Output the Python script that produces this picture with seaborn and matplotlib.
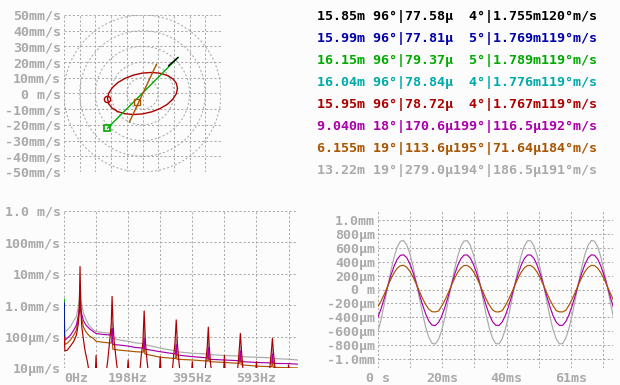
import matplotlib
matplotlib.use("Agg")
import matplotlib.pyplot as plt
from matplotlib.patches import Circle
from matplotlib.ticker import NullLocator
import seaborn as sns

# EGA-like scope palette
black, blue, green, cyan = '#000000', '#0000aa', '#00aa00', '#00aaaa'
red, magenta, brown, gray = '#aa0000', '#aa00aa', '#aa5500', '#aaaaaa'
bg = '#fcfcfc'

################################################
#   readout table (top right)                  #
################################################
row_colors = [black, blue, green, cyan, red, magenta, brown, gray]
vel_amp = ['15.85m', '15.99m', '16.15m', '16.04m', '15.95m', '9.040m', '6.155m', '13.22m']
vel_deg = [96, 96, 96, 96, 96, 18, 19, 19]
disp_amp = ['77.58µ', '77.81µ', '79.37µ', '78.84µ', '78.72µ', '170.6µ', '113.6µ', '279.0µ']
disp_deg = [4, 5, 5, 4, 4, 199, 195, 194]
harm_amp = ['1.755m', '1.769m', '1.789m', '1.776m', '1.767m', '116.5µ', '71.64µ', '186.5µ']
harm_deg = [120, 119, 119, 119, 119, 192, 184, 191]

################################################
#   orbit plot (top left), mm/s                #
################################################
ring_radii = [10, 20, 30, 40, 50]
orbit_ticks = [50, 40, 30, 20, 10, 0, -10, -20, -30, -40, -50]
orbit_labels = ['50mm/s', '40mm/s', '30mm/s', '20mm/s', '10mm/s', '0 m/s',
                '-10mm/s', '-20mm/s', '-30mm/s', '-40mm/s', '-50mm/s']
red_orbit_x = [22.3, 21.5, 19.3, 15.8, 11.2, 5.8, 0.0, -5.8, -11.2, -15.8, -19.3, -21.5, -22.3,
               -21.5, -19.3, -15.8, -11.2, -5.8, 0.0, 5.8, 11.2, 15.8, 19.3, 21.5, 22.3]
red_orbit_y = [3.3, 6.6, 9.4, 11.5, 12.9, 13.4, 13.0, 11.7, 9.6, 6.9, 3.6, 0.2, -3.3,
               -6.6, -9.4, -11.5, -12.9, -13.4, -13.0, -11.7, -9.6, -6.9, -3.6, -0.2, 3.3]
green_orbit_x = [-22.4, 22.8]
green_orbit_y = [-22.2, 23.1]
black_orbit_x = [16.5, 22.6]
black_orbit_y = [17.6, 22.9]
brown_orbit_x = [-8.4, 9.0]
brown_orbit_y = [-18.3, 18.8]
red_start = [-22.4, -3.7]
green_start = [-22.4, -22.2]
brown_start = [-3.3, -5.2]

################################################
#   spectrum (bottom left), m/s                #
################################################
spec_grid = [0, 98.8, 197.7, 296.5, 395.3, 494.2, 593, 691.8]
spec_xlabels = ['0Hz', '', '198Hz', '', '395Hz', '', '593Hz', '']
spec_yticks = [1e-5, 1e-4, 1e-3, 1e-2, 1e-1, 1]
spec_ylabels = ['10µm/s', '100µm/s', '1.0mm/s', '10mm/s', '100mm/s', '1.0 m/s']

floor_f = [0, 3, 10, 20, 30, 38, 44, 47, 49.4, 52, 55, 60, 68, 78, 90, 98.8, 120, 146, 148.2,
           150.5, 170, 197.6, 220, 245, 247, 249, 296.5, 343.5, 345.8, 348, 395.3, 442.5,
           444.6, 447, 494.2, 541, 543.4, 546, 593, 640, 642.2, 644.5, 691.8, 721]
gray_spec = [7.1e-4, 1.45e-4, 1.6e-4, 2.1e-4, 3.2e-4, 4.3e-4, 8.9e-4, 1.6e-3, 5.6e-3, 1.4e-3,
             1.0e-3, 5.6e-4, 3.5e-4, 2.2e-4, 1.66e-4, 1.45e-4, 1.35e-4, 1.26e-4, 2.8e-4,
             8.9e-5, 7.8e-5, 7.1e-5, 6.3e-5, 6.0e-5, 2.0e-4, 5.6e-5, 4.3e-5, 3.5e-5, 8.9e-5,
             3.3e-5, 2.95e-5, 2.8e-5, 7.1e-5, 2.7e-5, 2.5e-5, 2.4e-5, 5.0e-5, 2.3e-5, 2.2e-5,
             2.1e-5, 4.0e-5, 2.0e-5, 1.9e-5, 1.8e-5]
magenta_spec = [2.5e-4, 7.8e-5, 8.9e-5, 1.12e-4, 1.6e-4, 2.3e-4, 4.5e-4, 7.1e-4, 1.0e-3, 7.1e-4,
                5.0e-4, 3.2e-4, 2.3e-4, 1.8e-4, 1.45e-4, 1.26e-4, 1.17e-4, 1.12e-4, 1.8e-4,
                5.6e-5, 5.4e-5, 5.0e-5, 4.5e-5, 4.3e-5, 8.9e-5, 4.0e-5, 3.3e-5, 2.8e-5, 5.6e-5,
                2.6e-5, 2.3e-5, 2.1e-5, 4.5e-5, 1.9e-5, 1.8e-5, 1.7e-5, 3.5e-5, 1.6e-5, 1.5e-5,
                1.45e-5, 2.8e-5, 1.4e-5, 1.38e-5, 1.32e-5]
brown_spec = [3.4e-4, 5.6e-5, 6.2e-5, 7.9e-5, 1.12e-4, 1.6e-4, 3.5e-4, 7.9e-4, 2.5e-3, 7.9e-4,
              3.5e-4, 2.0e-4, 1.4e-4, 1.05e-4, 8.9e-5, 7.1e-5, 6.6e-5, 6.2e-5, 1.12e-4,
              4.0e-5, 3.7e-5, 3.5e-5, 3.3e-5, 3.2e-5, 6.3e-5, 2.8e-5, 2.2e-5, 2.0e-5, 3.5e-5,
              1.9e-5, 1.8e-5, 1.66e-5, 2.8e-5, 1.6e-5, 1.5e-5, 1.4e-5, 2.5e-5, 1.26e-5, 1.15e-5,
              1.1e-5, 2.0e-5, 1.05e-5, 1.02e-5, 1.0e-5]

red_f = [0, 3, 10, 20, 30, 38, 44, 47, 49.4, 52, 55, 60, 65, 72, 80,
         96, 98.8, 101.5,
         128, 135, 141, 145.5, 148.2, 151, 155, 162, 168,
         194, 197.6, 201,
         232, 238, 243, 247, 251, 256, 262,
         293, 296.5, 300,
         332, 338, 342, 345.8, 349.5, 355, 360,
         392, 395.3, 398.5,
         433, 438, 441.5, 444.6, 447.5, 452, 458,
         491, 494.2, 497.5,
         533, 537, 540.5, 543.4, 546.5, 551, 556,
         590, 593, 596,
         632, 636, 639.5, 642.2, 645, 650, 655,
         688.5, 691.8, 695, 721]
red_spec = [1.0e-4, 3.5e-5, 3.7e-5, 5.0e-5, 7.1e-5, 1.1e-4, 2.5e-4, 6.3e-4, 1.7e-2, 6.3e-4,
            2.0e-4, 7.9e-5, 3.5e-5, 1.6e-5, 5e-6,
            5e-6, 2.5e-5, 5e-6,
            5e-6, 1.8e-5, 7.9e-5, 2.5e-4, 1.9e-3, 2.5e-4, 6.3e-5, 1.4e-5, 5e-6,
            5e-6, 1.8e-5, 5e-6,
            5e-6, 2.5e-5, 6.3e-5, 6.6e-4, 6.3e-5, 1.6e-5, 5e-6,
            5e-6, 2.3e-5, 5e-6,
            5e-6, 2.5e-5, 6.3e-5, 3.4e-4, 5.6e-5, 1.26e-5, 5e-6,
            5e-6, 1.6e-5, 5e-6,
            5e-6, 2.0e-5, 5.0e-5, 2.0e-4, 5.0e-5, 1.26e-5, 5e-6,
            5e-6, 2.5e-5, 5e-6,
            5e-6, 1.6e-5, 4.5e-5, 1.26e-4, 4.0e-5, 1.0e-5, 5e-6,
            5e-6, 1.6e-5, 5e-6,
            5e-6, 1.6e-5, 4.0e-5, 8.9e-5, 3.5e-5, 1.0e-5, 5e-6,
            5e-6, 1.26e-5, 5e-6, 5e-6]
dc_f = [0.6, 0.6]
green_dc = [1.0e-4, 1.6e-3]
blue_dc = [1.0e-4, 1.2e-3]

################################################
#   waveform (bottom right), µm vs ms          #
################################################
wave_grid = [0, 10.1, 20.2, 30.3, 40.4, 50.5, 60.6, 70.7]
wave_xlabels = ['0 s', '', '20ms', '', '40ms', '', '61ms', '']
wave_yticks = [1000, 800, 600, 400, 200, 0, -200, -400, -600, -800, -1000]
wave_ylabels = ['1.0mm', '800µm', '600µm', '400µm', '200µm', '0 m',
                '-200µm', '-400µm', '-600µm', '-800µm', '-1.0mm']
t_ms = list(range(75))
gray_wave = [-605, -424, -204, 31, 259, 458, 608, 693, 706, 645, 517, 333, 112, -123, -349,
             -546, -693, -776, -784, -719, -588, -403, -181, 55, 281, 475, 619, 698, 703, 635,
             500, 312, 90, -146, -371, -564, -705, -780, -782, -709, -572, -382, -158, 78, 302,
             493, 630, 702, 700, 625, 484, 291, 66, -170, -392, -581, -715, -783, -778, -699,
             -555, -361, -135, 101, 323, 509, 640, 705, 696, 613, 466, 269, 43, -193, -414]
magenta_wave = [-396, -272, -122, 39, 195, 331, 433, 491, 500, 459, 371, 245, 94, -67, -222,
                -356, -457, -513, -519, -474, -385, -258, -107, 55, 209, 343, 441, 495, 498, 452,
                360, 231, 79, -83, -236, -368, -465, -516, -517, -468, -374, -244, -91, 71, 224,
                354, 448, 497, 496, 445, 348, 216, 63, -99, -251, -380, -472, -518, -515, -461,
                -363, -229, -75, 87, 238, 365, 455, 499, 493, 437, 336, 202, 47, -114, -266]
brown_wave = [-246, -164, -65, 42, 146, 236, 304, 342, 348, 321, 262, 179, 79, -27, -130,
              -219, -286, -320, -322, -310, -238, -154, -54, 53, 155, 244, 309, 344, 347, 316,
              255, 170, 69, -38, -140, -227, -295, -322, -322, -305, -231, -145, -43, 63, 165,
              251, 314, 346, 345, 311, 247, 160, 58, -49, -150, -235, -305, -322, -322, -300,
              -224, -135, -33, 74, 175, 259, 318, 348, 343, 306, 240, 150, 47, -59, -160]

################################################
#   figure                                     #
################################################
sns.set_style("white")
plt.rcParams['font.family'] = ['DejaVu Sans Mono', 'DejaVu Sans']
plt.rcParams['font.weight'] = 'bold'
plt.rcParams['font.size'] = 9.6

W, H = 620, 385
fig = plt.figure(figsize=(W / 100, H / 100), dpi=100, facecolor=bg)


def px_axes(left, top, right, bottom):
    return fig.add_axes([left / W, 1 - bottom / H, (right - left) / W, (bottom - top) / H])


grid_kw = dict(color=gray, linestyle=(0, (2, 2)), linewidth=0.75)
line_kw = dict(estimator=None, sort=False, legend=False)
LW = 0.85


def style(ax):
    ax.set_facecolor(bg)
    for s in ax.spines.values():
        s.set_visible(False)
    ax.grid(True, **grid_kw)
    ax.set_axisbelow(True)
    ax.tick_params(length=0, labelcolor=gray, labelsize=9.6, pad=2)


# orbit
ax1 = px_axes(64, 15, 221, 172)
style(ax1)
for r in ring_radii:
    ax1.add_patch(Circle((0, 0), r, fill=False, **grid_kw))
sns.lineplot(x=red_orbit_x, y=red_orbit_y, color=red, lw=1.0, ax=ax1, **line_kw)
sns.lineplot(x=green_orbit_x, y=green_orbit_y, color=green, lw=1.0, ax=ax1, **line_kw)
sns.lineplot(x=black_orbit_x, y=black_orbit_y, color=black, lw=1.0, ax=ax1, **line_kw)
sns.lineplot(x=brown_orbit_x, y=brown_orbit_y, color=brown, lw=1.0, ax=ax1, **line_kw)
ax1.plot(*red_start, marker='o', ms=4.5, mfc='none', mec=red, mew=1)
ax1.plot(*green_start, marker='s', ms=4.5, mfc='none', mec=green, mew=1.2)
ax1.plot(*brown_start, marker='s', ms=4.5, mfc='none', mec=brown, mew=1)
ax1.set_xlim(-50, 50)
ax1.set_ylim(-50, 50)
ax1.set_xticks(orbit_ticks)
ax1.set_xticklabels([])
ax1.set_yticks(orbit_ticks)
ax1.set_yticklabels(orbit_labels)

# table
for i, c in enumerate(row_colors):
    row = f"{vel_amp[i]} {vel_deg[i]:>2}°|{disp_amp[i]}{disp_deg[i]:>3}°|{harm_amp[i]}{harm_deg[i]:>3}°m/s"
    fig.text(317 / W, 1 - (20 + 22 * i) / H, row, color=c, ha='left', va='baseline',
             fontsize=9.6, fontweight='bold')

# spectrum
ax2 = px_axes(64, 211, 298, 368)
style(ax2)
ax2.set_yscale('log')
sns.lineplot(x=floor_f, y=gray_spec, color=gray, lw=LW, ax=ax2, **line_kw)
sns.lineplot(x=floor_f, y=brown_spec, color=brown, lw=LW, ax=ax2, **line_kw)
sns.lineplot(x=floor_f, y=magenta_spec, color=magenta, lw=LW, ax=ax2, **line_kw)
sns.lineplot(x=dc_f, y=green_dc, color=green, lw=1.2, ax=ax2, **line_kw)
sns.lineplot(x=dc_f, y=blue_dc, color=blue, lw=1.2, ax=ax2, **line_kw)
sns.lineplot(x=red_f, y=red_spec, color=red, lw=LW, ax=ax2, **line_kw)
ax2.set_xlim(0, 721)
ax2.set_ylim(1e-5, 1)
ax2.set_xticks(spec_grid)
ax2.set_xticklabels(spec_xlabels)
ax2.set_yticks(spec_yticks)
ax2.set_yticklabels(spec_ylabels)
ax2.yaxis.set_minor_locator(NullLocator())
ax2.tick_params(axis='x', pad=3)
first = ax2.get_xticklabels()[0]
first.set_ha('left')
first.set_x(-1.5)

# waveform
ax3 = px_axes(378, 211, 613, 368)
style(ax3)
sns.lineplot(x=t_ms, y=gray_wave, color=gray, lw=LW, ax=ax3, **line_kw)
sns.lineplot(x=t_ms, y=magenta_wave, color=magenta, lw=LW, ax=ax3, **line_kw)
sns.lineplot(x=t_ms, y=brown_wave, color=brown, lw=LW, ax=ax3, **line_kw)
ax3.set_xlim(0, 73.8)
ax3.set_ylim(-1130, 1130)
ax3.set_xticks(wave_grid)
ax3.set_xticklabels(wave_xlabels)
ax3.set_yticks(wave_yticks)
ax3.set_yticklabels(wave_ylabels)
ax3.tick_params(axis='x', pad=3)

for ax in (ax1, ax2, ax3):
    ax.set_xlabel('')
    ax.set_ylabel('')

fig.savefig('out.png', dpi=100, facecolor=bg)
